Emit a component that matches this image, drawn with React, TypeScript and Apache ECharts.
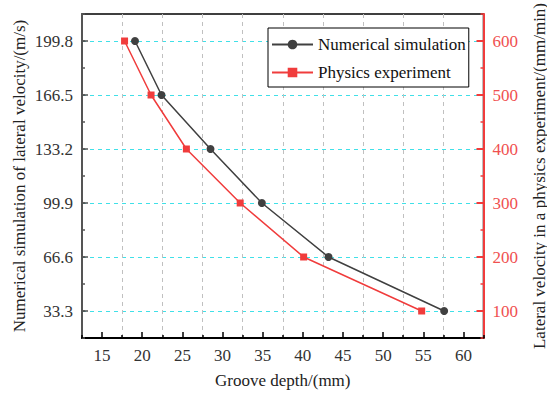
import React, { useEffect, useRef } from "react";
import * as echarts from "echarts";

const xTickValues = [15, 20, 25, 30, 35, 40, 45, 50, 55, 60];
const leftTickValues = [33.3, 66.6, 99.9, 133.2, 166.5, 199.8];
const rightTickValues = [100, 200, 300, 400, 500, 600];

const simDepth = [19.1, 22.4, 28.5, 34.9, 43.2, 57.6];
const simVelocity = [199.8, 166.5, 133.2, 99.9, 66.6, 33.3];

const expDepth = [17.8, 21.1, 25.5, 32.2, 40.1, 54.8];
const expVelocity = [600, 500, 400, 300, 200, 100];

const FONT = "'Liberation Serif', 'Times New Roman', serif";
const RED = "#f03c3c";
const GRAY = "#404040";
const FS = 17;

export default function App() {
  const ref = useRef<HTMLDivElement>(null);
  useEffect(() => {
    if (!ref.current) return;
    const chart = echarts.init(ref.current, null, { renderer: "svg" });
    const xMin = 12.5, xMax = 62.5;
    const lMin = 16.65, lMax = 216.45;
    const rMin = 50, rMax = 650;
    chart.setOption({
      animation: false,
      backgroundColor: "#fff",
      textStyle: { fontFamily: FONT },
      grid: {
        left: 82, right: 63.5, top: 14, bottom: 56,
        containLabel: false, outerBoundsMode: "none",
        show: true, borderColor: "#000", borderWidth: 1.5, backgroundColor: "transparent",
      },
      legend: {
        orient: "vertical",
        left: 268, top: 28,
        padding: [8, 3, 6, 3],
        itemWidth: 41, itemHeight: 12, itemGap: 11,
        borderColor: "#000", borderWidth: 1, backgroundColor: "#fff",
        textStyle: { fontFamily: FONT, fontSize: FS, color: "#111" },
        data: ["Numerical simulation", "Physics experiment"],
      },
      xAxis: [
        {
          type: "value", position: "bottom", min: xMin, max: xMax, interval: 5,
          name: "Groove depth/(mm)", nameLocation: "middle", nameGap: 34, nameMoveOverlap: false,
          nameTextStyle: { fontFamily: FONT, fontSize: FS, color: "#222" },
          axisLine: { show: true, lineStyle: { color: "#000", width: 2 } },
          axisTick: { show: true, inside: true, length: 3, lineStyle: { color: "#000", width: 1.5 } },
          axisLabel: { show: false },
          splitLine: { show: true, lineStyle: { color: "#c0c0c0", type: [4, 4], width: 1 } },
        },
        {
          type: "value", position: "bottom", min: xMin, max: xMax,
          axisLine: { show: false },
          axisTick: { show: true, inside: true, length: 6, customValues: xTickValues, lineStyle: { color: "#000", width: 1.5 } },
          axisLabel: { show: true, customValues: xTickValues, fontFamily: FONT, fontSize: FS, color: "#333", margin: 9 },
          splitLine: { show: false },
        },
      ],
      yAxis: [
        {
          type: "value", position: "left", min: lMin, max: lMax, interval: 16.65,
          name: "Numerical simulation of lateral velocity/(m/s)", nameLocation: "middle", nameGap: 54, nameMoveOverlap: false,
          nameTextStyle: { fontFamily: FONT, fontSize: FS, color: "#222" },
          axisLine: { show: true, lineStyle: { color: "#555", width: 2 } },
          axisTick: { show: true, inside: true, length: 3, lineStyle: { color: "#555", width: 1.5 } },
          axisLabel: { show: false },
          splitLine: { show: false },
        },
        {
          type: "value", position: "left", min: lMin, max: lMax,
          axisLine: { show: false },
          axisTick: { show: true, inside: true, length: 6, customValues: leftTickValues, lineStyle: { color: "#555", width: 1.5 } },
          axisLabel: {
            show: true, customValues: leftTickValues, fontFamily: FONT, fontSize: FS, color: "#333", margin: 9,
            formatter: (v: number) => v.toFixed(1),
          },
          splitLine: { show: true, lineStyle: { color: "#40e0e8", type: [4, 4], width: 1 } },
        },
        {
          type: "value", position: "right", min: rMin, max: rMax, interval: 50,
          name: "Lateral velocity in a physics experiment/(mm/min)", nameLocation: "middle", nameGap: 47, nameMoveOverlap: false,
          nameRotate: 90,
          nameTextStyle: { fontFamily: FONT, fontSize: FS, color: "#222" },
          axisLine: { show: true, lineStyle: { color: RED, width: 2 } },
          axisTick: { show: true, inside: true, length: 3, lineStyle: { color: RED, width: 1.5 } },
          axisLabel: { show: false },
          splitLine: { show: false },
        },
        {
          type: "value", position: "right", min: rMin, max: rMax,
          axisLine: { show: false },
          axisTick: { show: true, inside: true, length: 7, customValues: rightTickValues, lineStyle: { color: RED, width: 2 } },
          axisLabel: { show: true, customValues: rightTickValues, fontFamily: FONT, fontSize: FS, color: "#f05050", margin: 9 },
          splitLine: { show: false },
        },
      ],
      series: [
        {
          name: "Numerical simulation", type: "line", xAxisIndex: 0, yAxisIndex: 0,
          data: simDepth.map((d, i) => [d, simVelocity[i]]),
          symbol: "circle", symbolSize: 8,
          itemStyle: { color: GRAY }, lineStyle: { color: GRAY, width: 1.5 },
          z: 3,
        },
        {
          name: "Physics experiment", type: "line", xAxisIndex: 0, yAxisIndex: 2,
          data: expDepth.map((d, i) => [d, expVelocity[i]]),
          symbol: "rect", symbolSize: 7,
          itemStyle: { color: RED }, lineStyle: { color: RED, width: 1.5 },
          z: 3,
        },
      ],
    });
    return () => chart.dispose();
  }, []);
  return <div ref={ref} style={{ width: 547, height: 394, position: "absolute", left: 0, top: 0 }} />;
}
